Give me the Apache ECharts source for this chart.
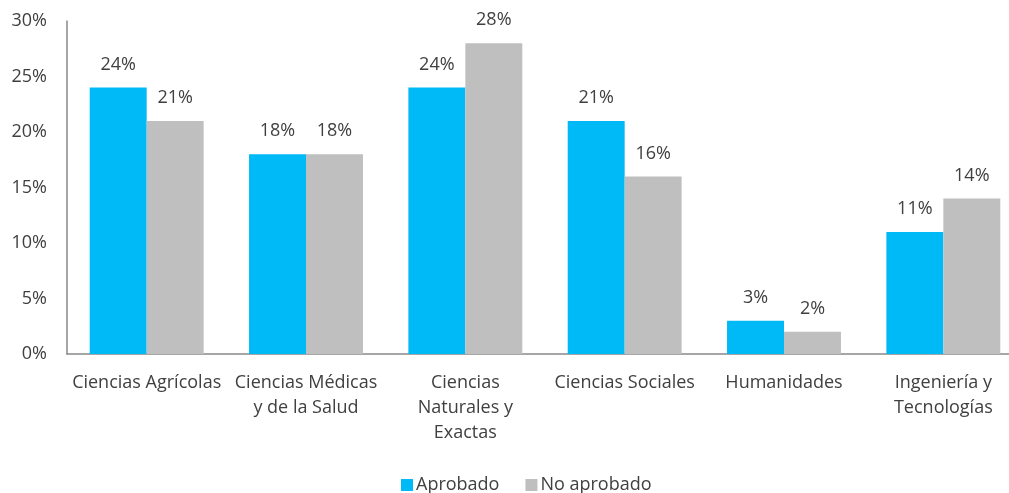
<!DOCTYPE html>
<html><head><meta charset="utf-8">
<script src="https://cdn.jsdelivr.net/npm/echarts@6/dist/echarts.min.js"></script>
<style>html,body{margin:0;padding:0;background:#fff}#c{width:1009px;height:493px}</style>
</head><body><div id="c"></div>
<script>
const categories = ["Ciencias Agrícolas", "Ciencias Médicas\ny de la Salud", "Ciencias\nNaturales y\nExactas", "Ciencias Sociales", "Humanidades", "Ingeniería y\nTecnologías"];
const aprobado = [24, 18, 24, 21, 3, 11];
const noAprobado = [21, 18, 28, 16, 2, 14];
const yTicks = [0, 5, 10, 15, 20, 25, 30];

const font = '"Open Sans", sans-serif';
const chart = echarts.init(document.getElementById('c'));
chart.setOption({
  animation: false,
  textStyle: { fontFamily: font },
  grid: { left: 67, width: 956, top: 21, bottom: 139, containLabel: false, outerBoundsMode: 'none' },
  legend: {
    top: 471, left: 396, itemWidth: 12, itemHeight: 12, itemGap: 26,
    icon: 'rect',
    textStyle: { fontSize: 18, color: '#404040', fontFamily: font, padding: [0, 0, 0, -2] },
    data: ['Aprobado', 'No aprobado']
  },
  xAxis: {
    type: 'category', data: categories,
    axisLine: { lineStyle: { color: '#898989', width: 1.5 } },
    axisTick: { show: false },
    axisLabel: { color: '#404040', fontSize: 18, margin: 16, lineHeight: 25, interval: 0, fontFamily: font }
  },
  yAxis: {
    type: 'value', min: yTicks[0], max: yTicks[yTicks.length - 1], interval: 5,
    axisLine: { show: true, lineStyle: { color: '#898989', width: 1.5 } },
    axisTick: { show: false },
    splitLine: { show: false },
    axisLabel: { color: '#404040', fontSize: 18, margin: 20, formatter: v => v + '%', fontFamily: font }
  },
  series: [
    { name: 'Aprobado', type: 'bar', data: aprobado, barGap: '0%', barCategoryGap: '28.5%',
      itemStyle: { color: '#00B9F7' },
      label: { show: true, position: 'top', distance: 14, color: '#404040', fontSize: 18, formatter: p => p.value + '%', fontFamily: font } },
    { name: 'No aprobado', type: 'bar', data: noAprobado, barGap: '0%', barCategoryGap: '28.5%',
      itemStyle: { color: '#BFBFBF' },
      label: { show: true, position: 'top', distance: 14, color: '#404040', fontSize: 18, formatter: p => p.value + '%', fontFamily: font } }
  ]
});
</script></body></html>
